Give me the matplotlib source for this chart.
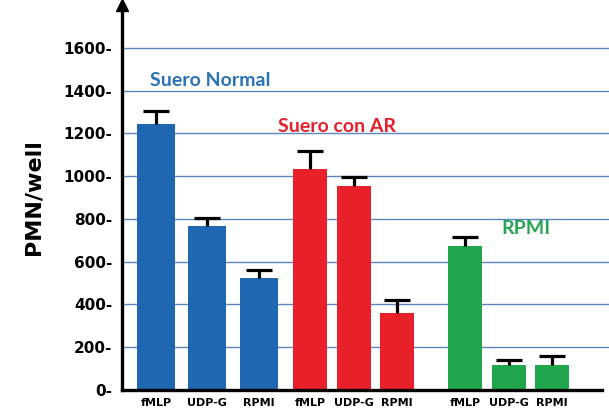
import matplotlib
matplotlib.use("Agg")
import matplotlib.pyplot as plt

# Data
groups = ["Suero Normal", "Suero con AR", "RPMI"]
stimuli = ["fMLP", "UDP-G", "RPMI"]
normal_vals = [1245, 765, 525]
normal_err = [60, 37, 35]
ar_vals = [1035, 955, 360]
ar_err = [82, 42, 63]
rpmi_vals = [675, 115, 115]
rpmi_err = [42, 25, 42]
yticks = [0, 200, 400, 600, 800, 1000, 1200, 1400, 1600]

colors = ["#1f67b1", "#e8202a", "#22a64c"]
text_colors = ["#2a73b8", "#e3202a", "#27a552"]

# Layout (x in pixel-like units from the y axis)
centers = [[34, 85, 136.5], [188, 232, 275], [343, 386.5, 429.5]]
widths = [38, 34, 34]
label_pos = [(88, 1445), (215, 1232), (404, 755)]

W, H = 609, 416
fig = plt.figure(figsize=(W / 100, H / 100), dpi=100)
ax = fig.add_axes([122 / W, 26 / H, (W - 122) / W, (390 - 5) / H])
ax.set_xlim(0, W - 122)
ax.set_ylim(0, 1800)

series = [(normal_vals, normal_err), (ar_vals, ar_err), (rpmi_vals, rpmi_err)]
for gi, (vals, errs) in enumerate(series):
    ax.bar(centers[gi], vals, width=widths[gi], color=colors[gi], zorder=3)
    _, caps, _ = ax.errorbar(centers[gi], vals, yerr=[[0] * len(errs), errs],
                             fmt="none", ecolor="black", elinewidth=2.3,
                             capsize=9.2, capthick=2.3, zorder=4)
    # upper error bars only: hide the cap sitting on the bar top
    caps[0].set_visible(False)
    tx, ty = label_pos[gi]
    ax.text(tx, ty, groups[gi], color=text_colors[gi], fontsize=14,
            fontweight="bold", family="Lato", ha="center", va="center", zorder=5)

# Horizontal grid lines
for v in yticks[1:]:
    ax.axhline(v, color="#5b86bd", lw=1.0, zorder=1)

ax.set_yticks(yticks)
ax.set_yticklabels([f"{v}-" for v in yticks], fontsize=11, fontweight="bold",
                   family="DejaVu Sans")
ax.tick_params(axis="y", length=0, pad=7)

xs = [c for grp in centers for c in grp]
ax.set_xticks(xs)
ax.set_xticklabels(stimuli * 3, fontsize=8, fontweight="bold", family="DejaVu Sans")
ax.tick_params(axis="x", length=0, pad=6)

ax.set_ylabel("PMN/well", fontsize=16, fontweight="bold", family="DejaVu Sans",
              labelpad=14)

for s in ["top", "right"]:
    ax.spines[s].set_visible(False)
ax.spines["left"].set_linewidth(2.4)
ax.spines["bottom"].set_linewidth(2.4)
ax.spines["bottom"].set_bounds(0, 602 - 122)
ax.spines["left"].set_zorder(6)
ax.spines["bottom"].set_zorder(6)

# Arrow head on the y axis
ax.plot([0], [1.0], marker="^", markersize=8, color="black",
        transform=ax.transAxes, clip_on=False, zorder=7)

fig.savefig("out.png", dpi=100)
